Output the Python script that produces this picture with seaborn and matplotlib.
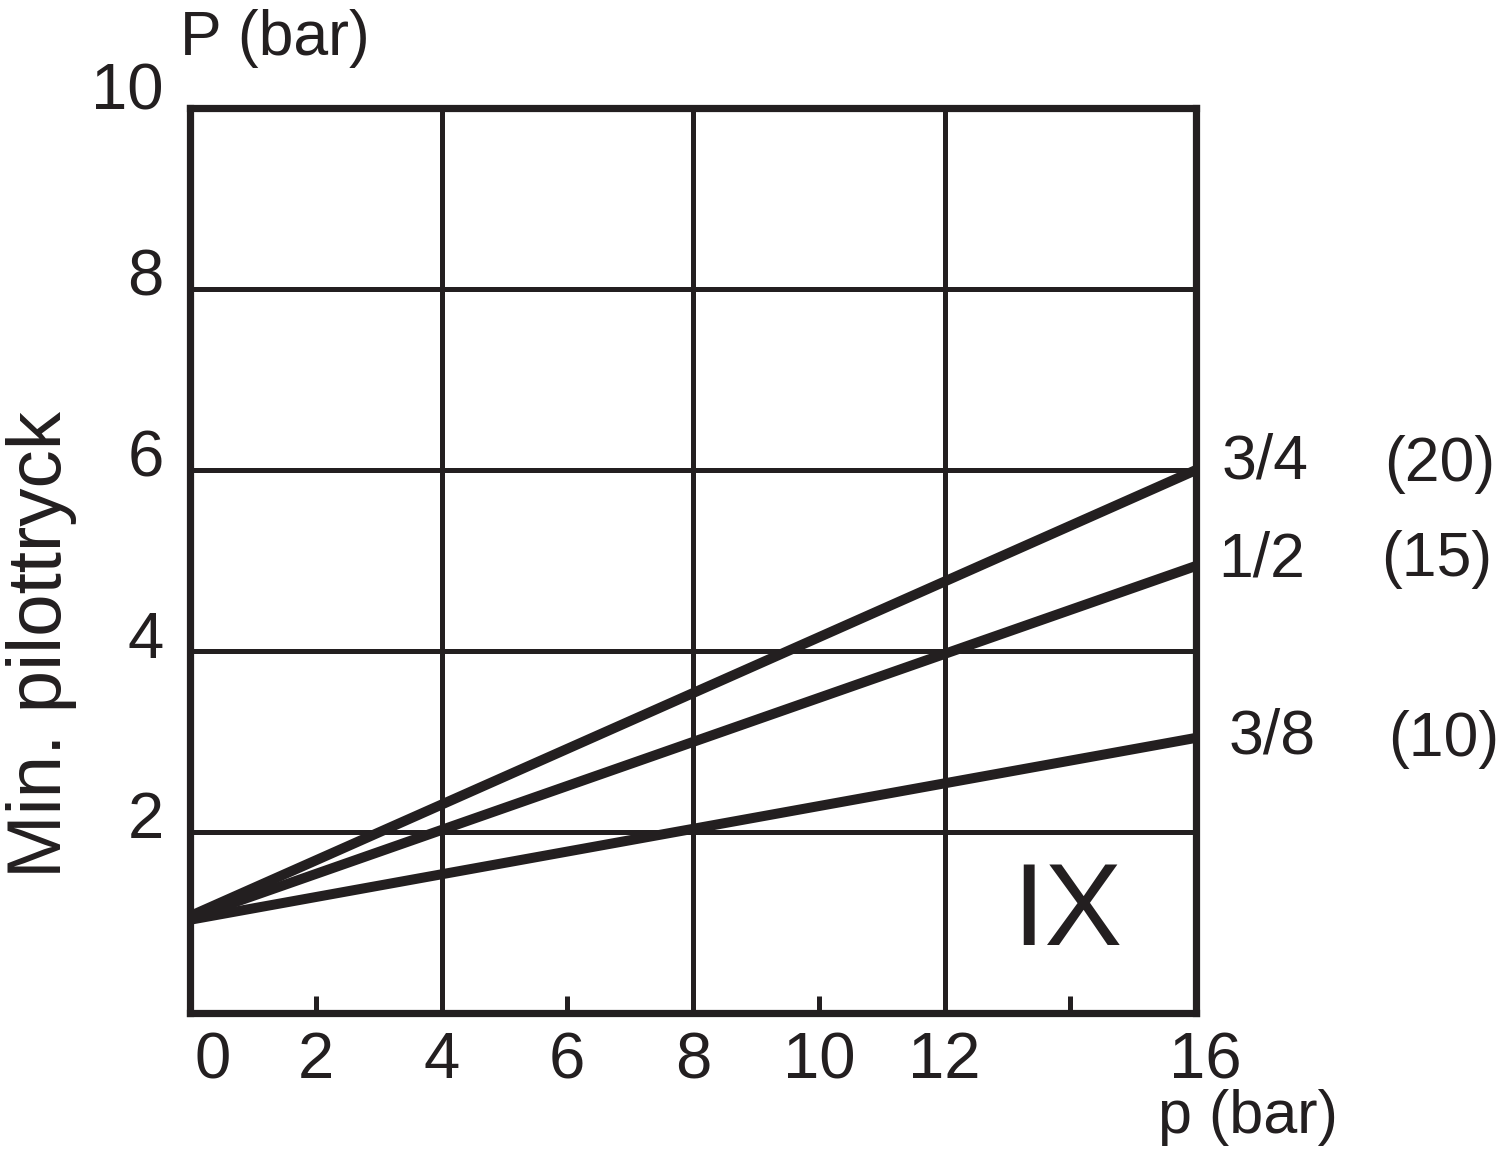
import matplotlib
matplotlib.use("Agg")
import matplotlib.pyplot as plt
import matplotlib.transforms as mtransforms
import seaborn as sns
import pandas as pd

# ---- data ----
sizes = ["3/4", "1/2", "3/8"]
sizes_mm = ["(20)", "(15)", "(10)"]
p_points = [0, 16]
P_start = [1.07, 1.05, 1.03]
P_end = [6.0, 4.94, 3.04]

x_tick_vals = [0, 2, 4, 6, 8, 10, 12, 16]
x_tick_labels = ["0", "2", "4", "6", "8", "10", "12", "16"]
x_minor_vals = [2, 6, 10, 14]
y_tick_vals = [2, 4, 6, 8, 10]
y_tick_labels = ["2", "4", "6", "8", "10"]
x_grid = [4, 8, 12]
y_grid = [2, 4, 6, 8]

INK = "#231f20"

rows = []
for s, a, b in zip(sizes, P_start, P_end):
    rows.append({"p": p_points[0], "P": a, "size": s})
    rows.append({"p": p_points[1], "P": b, "size": s})
df = pd.DataFrame(rows)

sns.set_theme(style="white")
plt.rcParams["font.family"] = ["Liberation Sans", "DejaVu Sans"]

fig = plt.figure(figsize=(15, 11.49), dpi=100)
ax = fig.add_axes([190 / 1500, 1 - 1013 / 1149, (1196 - 190) / 1500, (1013 - 108) / 1149])

for gx in x_grid:
    ax.axvline(gx, color=INK, lw=3.6, zorder=1)
for gy in y_grid:
    ax.axhline(gy, color=INK, lw=3.6, zorder=1)

sns.lineplot(data=df, x="p", y="P", hue="size", palette=[INK] * 3,
             linewidth=7.2, legend=False, ax=ax, zorder=3)
for ln in ax.get_lines():
    ln.set_solid_capstyle("butt")

ax.set_xlim(0, 16)
ax.set_ylim(0, 10)
for sp in ax.spines.values():
    sp.set_visible(True)
    sp.set_color(INK)
    sp.set_linewidth(5.2)
    sp.set_zorder(5)

ax.xaxis.remove_overlapping_locs = False
ax.set_xticks(x_tick_vals)
ax.set_xticklabels(x_tick_labels)
ax.set_xticks(x_minor_vals, minor=True)
ax.tick_params(axis="x", which="major", length=0, pad=13, labelsize=47, labelcolor=INK)
ax.tick_params(axis="x", which="minor", direction="in", length=12.5, width=3.6,
               color=INK, bottom=True)
ax.set_yticks(y_tick_vals)
ax.set_yticklabels(y_tick_labels)
ax.tick_params(axis="y", which="major", length=0, pad=19, labelsize=47, labelcolor=INK)
ax.set_xlabel("")
ax.set_ylabel("")

# label offsets (pixels)
for lab in ax.get_xticklabels():
    dx = 0
    if lab.get_text() == "0":
        dx = 23
    elif lab.get_text() == "16":
        dx = 9
    lab.set_transform(lab.get_transform() +
                      mtransforms.ScaledTranslation(dx / 100, 0, fig.dpi_scale_trans))
for lab in ax.get_yticklabels():
    dy = 22 if lab.get_text() == "10" else 17
    lab.set_transform(lab.get_transform() +
                      mtransforms.ScaledTranslation(0, dy / 100, fig.dpi_scale_trans))

# end labels
k = 0.72
label_off = [(69, 8, 244, 5), (66, 6, 241, 6), (76, 1, 248, -2)]
for s, mm, yend, (dx1, dy1, dx2, dy2) in zip(sizes, sizes_mm, P_end, label_off):
    ax.annotate(s, xy=(16, yend), xytext=(dx1 * k, dy1 * k), textcoords="offset points",
                ha="center", va="center", fontsize=45, color=INK, annotation_clip=False)
    ax.annotate(mm, xy=(16, yend), xytext=(dx2 * k, dy2 * k), textcoords="offset points",
                ha="center", va="center", fontsize=45, color=INK, annotation_clip=False)

ax.text(13.96, 1.09, "IX", ha="center", va="center", fontsize=84, color=INK, zorder=4)

fig.text(275 / 1500, 1 - 38 / 1149, "P (bar)", ha="center", va="center", fontsize=45, color=INK)
fig.text(1248 / 1500, 1 - 1117 / 1149, "p (bar)", ha="center", va="center", fontsize=44, color=INK)
fig.text(42 / 1500, 1 - 645 / 1149, "Min. pilottryck", rotation=90, ha="center", va="center",
         fontsize=55, color=INK)

fig.savefig("out.png", dpi=100, facecolor="white")
